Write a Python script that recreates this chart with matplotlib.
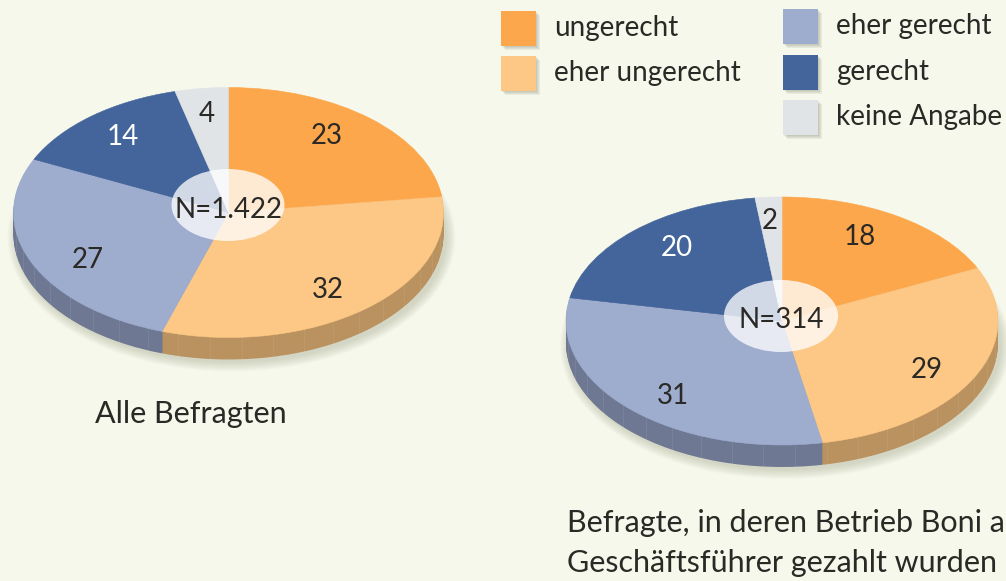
import numpy as np
import matplotlib
matplotlib.use('Agg')
import matplotlib.pyplot as plt
from matplotlib.patches import Ellipse, Rectangle

#Data
categories = ['ungerecht', 'eher ungerecht', 'eher gerecht', 'gerecht', 'keine Angabe']
alle_values = [23, 32, 27, 14, 4]
boni_values = [18, 29, 31, 20, 2]
alle_n = 'N=1.422'
boni_n = 'N=314'
alle_title = 'Alle Befragten'
boni_title = 'Befragte, in deren Betrieb Boni an\nGeschäftsführer gezahlt wurden'

#Colours
bg = '#f5f8ea'
ink = '#2a2926'
top_colors = ['#fca74c', '#fdc785', '#9eacce', '#44659b', '#e0e4e7']
side_colors = ['#b9925f', '#b9925f', '#6e7893', '#3a4c6e', '#a8abad']

W, H = 1006, 581
plt.rcParams['font.family'] = ['Lato', 'DejaVu Sans']
fig = plt.figure(figsize=(W / 100, H / 100), dpi=100, facecolor=bg)

#Overlay in pixel coordinates, for everything that is not a pie
over = fig.add_axes([0, 0, 1, 1], zorder=5)
over.set_xlim(0, W)
over.set_ylim(H, 0)
over.axis('off')
over.patch.set_alpha(0)

back = fig.add_axes([0, 0, 1, 1], zorder=0)
back.set_xlim(0, W)
back.set_ylim(H, 0)
back.axis('off')


def draw_pie(values, cx, cy, rx, ry, depth):
    #soft shadow under the pie
    for k in range(10):
        back.add_patch(Ellipse((cx + 3, cy + depth + 3), 2 * rx + 2 * k, 2 * ry + 2 * k,
                               fc='#8a8a70', ec='none', alpha=0.03))
    ax = fig.add_axes([(cx - rx) / W, 1 - (cy + ry + depth) / H,
                       2 * rx / W, (2 * ry + depth) / H], zorder=2)
    step = 1 / ry
    for d in range(depth, 0, -1):
        ax.pie(values, colors=side_colors, startangle=90, counterclock=False,
               center=(0, -d * step), wedgeprops={'linewidth': 0}, normalize=True)
    ax.pie(values, colors=top_colors, startangle=90, counterclock=False,
           wedgeprops={'linewidth': 0.4, 'edgecolor': None}, normalize=True)
    for w in ax.patches[-len(values):]:
        w.set_edgecolor(w.get_facecolor())
    ax.set_aspect('auto')
    ax.set_xlim(-1, 1)
    ax.set_ylim(-1 - depth * step, 1)
    #thin seams on the side wall
    for ang in np.arange(100, 262, 8.5):
        x = np.sin(np.radians(ang))
        y = np.cos(np.radians(ang))
        ax.plot([x, x], [y, y - depth * step], color='white', alpha=0.07, lw=0.8)
    return ax


draw_pie(alle_values, 228.5, 212.5, 215, 125, 22)
draw_pie(boni_values, 782, 321, 216, 124, 22)

#Centre holes
over.add_patch(Ellipse((228, 205), 113, 72, fc='white', ec='none', alpha=0.76))
over.add_patch(Ellipse((781, 316), 114, 72, fc='white', ec='none', alpha=0.76))

fs = 20
over.text(229, 210, alle_n, fontsize=fs, color=ink, ha='center', va='center')
over.text(781, 320, boni_n, fontsize=fs, color=ink, ha='center', va='center')

#Value labels, same order as the categories
alle_pos = [(327, 136), (328, 290), (88, 260), (123, 137), (207, 114)]
boni_pos = [(860, 237), (927, 370), (673, 396), (677, 248), (770, 221)]
label_colors = [ink, ink, ink, 'white', ink]
for values, pos in [(alle_values, alle_pos), (boni_values, boni_pos)]:
    for v, p, c in zip(values, pos, label_colors):
        over.text(p[0], p[1], str(v), fontsize=fs, color=c, ha='center', va='center')

over.text(191, 414, alle_title, fontsize=22, color=ink, ha='center', va='center')
over.text(567, 543, boni_title, fontsize=22, color=ink, ha='left', va='center', linespacing=1.53)

#Legend
legend_pos = [(501, 11), (501, 56), (783, 9), (783, 55), (783, 100)]
for name, col, p in zip(categories, top_colors, legend_pos):
    for k in range(4):
        over.add_patch(Rectangle((p[0] + 1 + k, p[1] + 1 + k), 35, 35, fc='#77776a', ec='none', alpha=0.1))
    over.add_patch(Rectangle(p, 35, 35, fc=col, ec='none'))
    over.text(p[0] + 53, p[1] + 17, name, fontsize=fs, color=ink, ha='left', va='center')

fig.savefig('out.png', dpi=100, facecolor=bg)
